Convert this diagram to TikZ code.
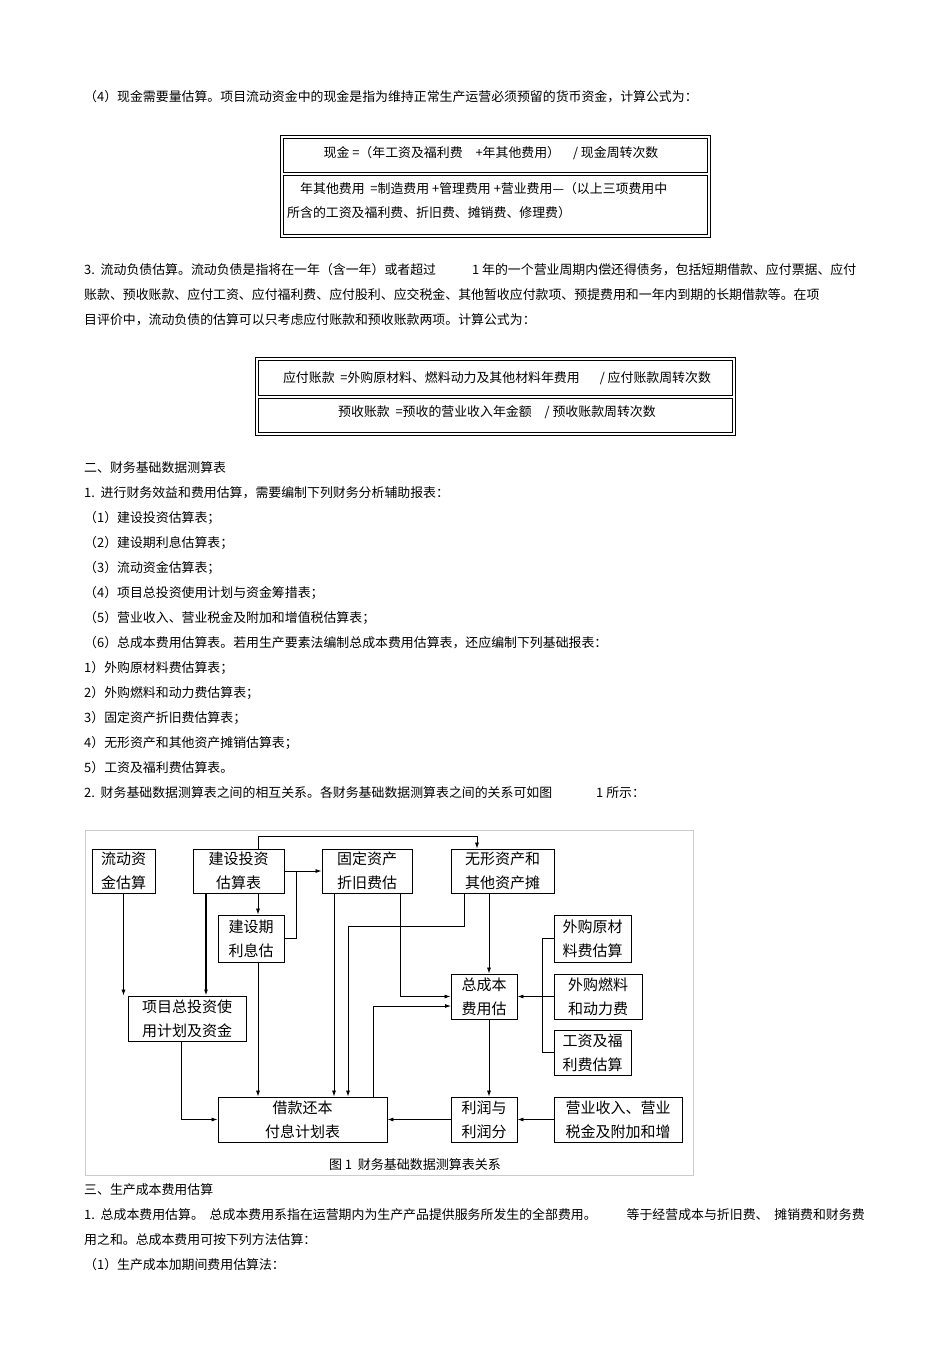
\documentclass[tikz,border=0pt]{standalone}
\usepackage{fontspec}
\setmainfont{Noto Sans CJK SC}
\usetikzlibrary{arrows.meta}
\begin{document}
\begin{tikzpicture}[x=1pt,y=-1pt,
  txt/.style={anchor=west,inner sep=0pt,font=\fontsize{12.9}{15}\selectfont},
  ctxt/.style={inner sep=0pt,font=\fontsize{12.9}{15}\selectfont},
  fbox/.style={draw,line width=0.6pt},
  bx/.style={draw,line width=0.9pt,inner sep=0pt,align=center,font=\fontsize{15}{24}\selectfont},
  ln/.style={line width=0.8pt},
  ar/.style={line width=0.8pt,-{Latex[length=6pt,width=4pt]}}]
\useasboundingbox (0,0) rectangle (950,1345);
\fill[white] (0,0) rectangle (950,1345);
% paragraph (4)
\node[txt] (p1) at (84,97) {（4）现金需要量估算。项目流动资金中的现金是指为维持正常生产运营必须预留的货币资金，计算公式为：};
\draw[fbox] (280,135) rectangle (710,237);
\draw[fbox] (283,138) rectangle (707,172);
\draw[fbox] (283,175) rectangle (707,234);
\node[ctxt] (f1) at (491,153) {现金 =（年工资及福利费\quad +年其他费用）\quad / 现金周转次数};
\node[txt] (f2) at (300,189) {年其他费用\ \ =制造费用 +管理费用 +营业费用—（以上三项费用中};
\node[txt] (f3) at (287,213) {所含的工资及福利费、折旧费、摊销费、修理费）};
% paragraph 3
\node[txt] (p2) at (84,270) {3.\ \ 流动负债估算。流动负债是指将在一年（含一年）或者超过\hspace{36pt}1 年的一个营业周期内偿还得债务，包括短期借款、应付票据、应付};
\node[txt] (p3) at (84,295) {账款、预收账款、应付工资、应付福利费、应付股利、应交税金、其他暂收应付款项、预提费用和一年内到期的长期借款等。在项};
\node[txt] (p4) at (84,320) {目评价中，流动负债的估算可以只考虑应付账款和预收账款两项。计算公式为：};
\draw[fbox] (255,357) rectangle (735,435);
\draw[fbox] (258,360) rectangle (732,395);
\draw[fbox] (258,398) rectangle (732,432);
\node[ctxt] (f4) at (497,378) {应付账款\ \ =外购原材料、燃料动力及其他材料年费用\hspace{20pt}/ 应付账款周转次数};
\node[ctxt] (f5) at (497,412) {预收账款\ \ =预收的营业收入年金额\quad / 预收账款周转次数};
% section 2
\node[txt] (s1) at (84,468) {二、财务基础数据测算表};
\node[txt] (s2) at (84,493) {1.\ \ 进行财务效益和费用估算，需要编制下列财务分析辅助报表：};
\node[txt] (s3) at (84,518) {（1）建设投资估算表；};
\node[txt] (s4) at (84,543) {（2）建设期利息估算表；};
\node[txt] (s5) at (84,568) {（3）流动资金估算表；};
\node[txt] (s6) at (84,593) {（4）项目总投资使用计划与资金筹措表；};
\node[txt] (s7) at (84,618) {（5）营业收入、营业税金及附加和增值税估算表；};
\node[txt] (s8) at (84,643) {（6）总成本费用估算表。若用生产要素法编制总成本费用估算表，还应编制下列基础报表：};
\node[txt] (s9) at (84,668) {1）外购原材料费估算表；};
\node[txt] (s10) at (84,693) {2）外购燃料和动力费估算表；};
\node[txt] (s11) at (84,718) {3）固定资产折旧费估算表；};
\node[txt] (s12) at (84,743) {4）无形资产和其他资产摊销估算表；};
\node[txt] (s13) at (84,768) {5）工资及福利费估算表。};
\node[txt] (s14) at (84,793) {2.\ \ 财务基础数据测算表之间的相互关系。各财务基础数据测算表之间的关系可如图\hspace{44pt}1 所示：};
% figure frame
\draw[gray!40,line width=0.6pt] (85,830) rectangle (693,1175);
% boxes
\node[bx,minimum width=63pt,minimum height=44pt] (ld) at (123.5,871) {流动资\\金估算};
\node[bx,minimum width=91pt,minimum height=44pt] (js) at (238.5,871) {建设投资\\估算表};
\node[bx,minimum width=90pt,minimum height=44pt] (gd) at (367,871) {固定资产\\折旧费估};
\node[bx,minimum width=103pt,minimum height=44pt] (wx) at (502.5,871) {无形资产和\\其他资产摊};
\node[bx,minimum width=66pt,minimum height=47pt] (jq) at (251,938.5) {建设期\\利息估};
\node[bx,minimum width=118pt,minimum height=45pt] (xm) at (187,1018.5) {项目总投资使\\用计划及资金};
\node[bx,minimum width=169pt,minimum height=45pt] (jk) at (302.5,1119.5) {借款还本\\付息计划表};
\node[bx,minimum width=66pt,minimum height=45pt] (zc) at (484,996.5) {总成本\\费用估};
\node[bx,minimum width=77pt,minimum height=47pt] (yc) at (592.5,938.5) {外购原材\\料费估算};
\node[bx,minimum width=88pt,minimum height=45pt] (rl) at (598,996.5) {外购燃料\\和动力费};
\node[bx,minimum width=77pt,minimum height=45pt] (gz) at (592.5,1052.5) {工资及福\\利费估算};
\node[bx,minimum width=66pt,minimum height=45pt] (lr) at (484,1119.5) {利润与\\利润分};
\node[bx,minimum width=128pt,minimum height=45pt] (yy) at (618,1119.5) {营业收入、营业\\税金及附加和增};
\node[inner sep=0pt,font=\fontsize{13}{16}\selectfont] (cap) at (415,1165) {图 1\ \ 财务基础数据测算表关系};
% connectors
\draw[ar] (ld.south) -- (ld.south |- xm.north);
\draw[ar,line width=1.6pt] (206,893) -- (206,0 |- xm.north);
\draw[ar] (258,893) -- (258,0 |- jq.north);
\draw[ar] (js.east) -- (gd.west);
\draw[ln] (jq.east) -| (296,871);
\draw[ar] (258,0 |- js.north) |- (477,836) -- (477,0 |- wx.north);
\draw[ar] (258,0 |- jq.south) -- (258,0 |- jk.north);
\draw[ar] (334,0 |- gd.south) -- (334,0 |- jk.north);
\draw[ar] (400,0 |- gd.south) |- (zc.west);
\draw[ar] (464,0 |- wx.south) |- (348,926) -- (348,0 |- jk.north);
\draw[ar] (489,0 |- wx.south) -- (489,0 |- zc.north);
\draw[ar] (373,0 |- jk.north) |- (451,1006);
\draw[ar] (181,0 |- xm.south) |- (jk.west);
\draw[ln] (yc.west) -| (542,1052.5) -- (gz.west);
\draw[ar] (rl.west) -- (zc.east);
\draw[ar] (489,0 |- zc.south) -- (489,0 |- lr.north);
\draw[ar] (lr.west) -- (jk.east);
\draw[ar] (yy.west) -- (lr.east);
% section 3
\node[txt] (t1) at (84,1190) {三、生产成本费用估算};
\node[txt] (t2) at (84,1215) {1.\ \ 总成本费用估算。\ \ 总成本费用系指在运营期内为生产产品提供服务所发生的全部费用。\hspace{30pt}等于经营成本与折旧费、\ \ 摊销费和财务费};
\node[txt] (t3) at (84,1240) {用之和。总成本费用可按下列方法估算：};
\node[txt] (t4) at (84,1265) {（1）生产成本加期间费用估算法：};
\end{tikzpicture}
\end{document}
